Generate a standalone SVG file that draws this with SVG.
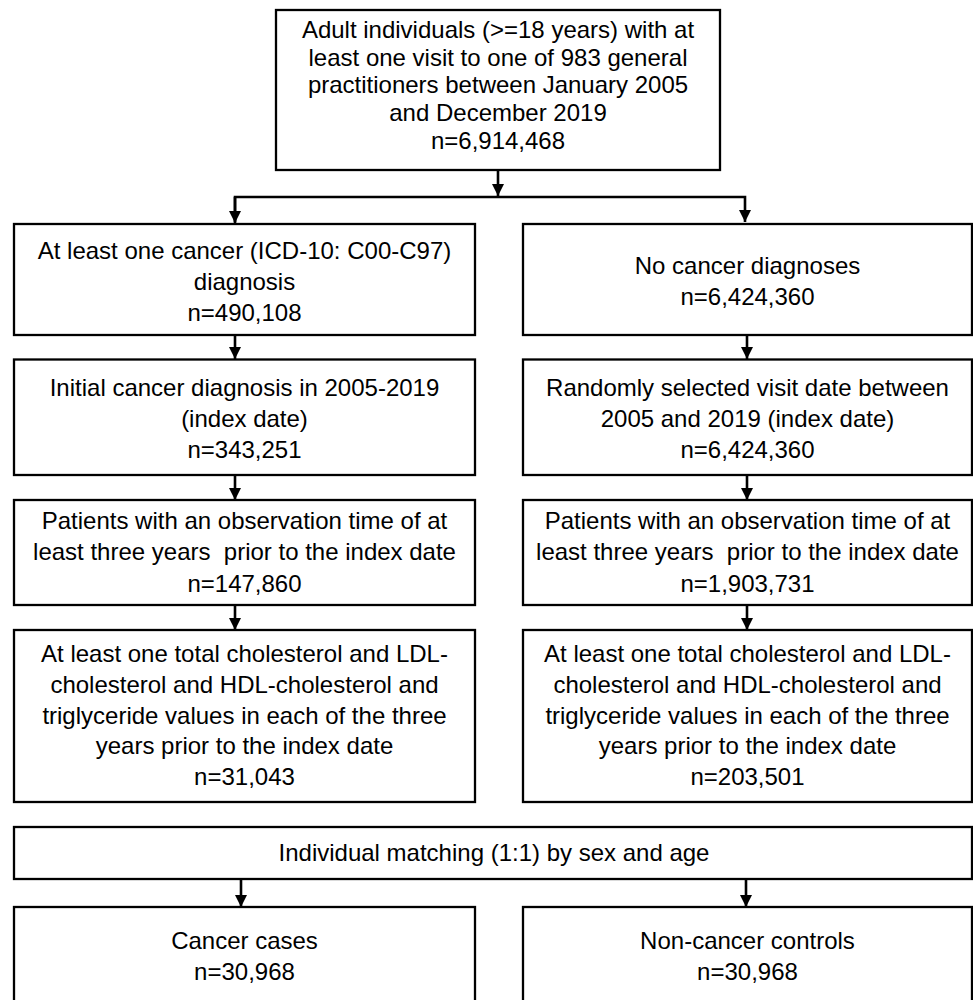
<svg xmlns="http://www.w3.org/2000/svg" width="973" height="1000" viewBox="0 0 973 1000">
<style>
.box{fill:#fff;stroke:#000;stroke-width:2.3}
.t{font-family:"Liberation Sans",Arial,sans-serif;font-size:24px;fill:#000;text-anchor:middle}
.c{fill:none;stroke:#000;stroke-width:2.6}
</style>
<defs>
<marker id="ah" markerUnits="userSpaceOnUse" markerWidth="13" markerHeight="13" refX="12.5" refY="6.25" orient="auto">
<path d="M0,0 L12.5,6.25 L0,12.5 z" fill="#000"/>
</marker>
</defs>
<rect width="973" height="1000" fill="#fff"/>
<g id="connectors">
<line class="c" x1="498" y1="170" x2="498" y2="196" marker-end="url(#ah)"/>
<polyline class="c" points="235,222 235,197 745,197 745,222" marker-end="url(#ah)"/>
<line class="c" x1="235" y1="197" x2="235" y2="223" marker-end="url(#ah)"/>
<line class="c" x1="235" y1="335" x2="235" y2="359" marker-end="url(#ah)"/>
<line class="c" x1="747" y1="335" x2="747" y2="359" marker-end="url(#ah)"/>
<line class="c" x1="235" y1="475" x2="235" y2="500" marker-end="url(#ah)"/>
<line class="c" x1="747" y1="475" x2="747" y2="500" marker-end="url(#ah)"/>
<line class="c" x1="235" y1="605" x2="235" y2="630" marker-end="url(#ah)"/>
<line class="c" x1="747" y1="605" x2="747" y2="630" marker-end="url(#ah)"/>
<line class="c" x1="241" y1="879" x2="241" y2="907" marker-end="url(#ah)"/>
<line class="c" x1="746" y1="879" x2="746" y2="907" marker-end="url(#ah)"/>
</g>
<g id="n_top">
<rect class="box" x="276" y="10" width="444" height="160"/>
<text class="t" x="498" y="38">Adult individuals (&gt;=18 years) with at</text>
<text class="t" x="498" y="65.7">least one visit to one of 983 general</text>
<text class="t" x="498" y="93.3">practitioners between January 2005</text>
<text class="t" x="498" y="121">and December 2019</text>
<text class="t" x="498" y="148.5">n=6,914,468</text>
</g>
<g id="n_cancer">
<rect class="box" x="14" y="224" width="461" height="111"/>
<text class="t" x="244.5" y="259">At least one cancer (ICD-10: C00-C97)</text>
<text class="t" x="244.5" y="290">diagnosis</text>
<text class="t" x="244.5" y="321">n=490,108</text>
</g>
<g id="n_nocancer">
<rect class="box" x="523" y="224" width="449" height="111"/>
<text class="t" x="747.5" y="274">No cancer diagnoses</text>
<text class="t" x="747.5" y="305">n=6,424,360</text>
</g>
<g id="n_initial">
<rect class="box" x="14" y="359.5" width="461" height="115.5"/>
<text class="t" x="244.5" y="396">Initial cancer diagnosis in 2005-2019</text>
<text class="t" x="244.5" y="426.5">(index date)</text>
<text class="t" x="244.5" y="457.5">n=343,251</text>
</g>
<g id="n_random">
<rect class="box" x="523" y="359.5" width="449" height="115.5"/>
<text class="t" x="747.5" y="396">Randomly selected visit date between</text>
<text class="t" x="747.5" y="426.5">2005 and 2019 (index date)</text>
<text class="t" x="747.5" y="457.5">n=6,424,360</text>
</g>
<g id="n_obs_left">
<rect class="box" x="14" y="500" width="461" height="105"/>
<text class="t" x="244.5" y="529">Patients with an observation time of at</text>
<text class="t" x="244.5" y="560" xml:space="preserve">least three years  prior to the index date</text>
<text class="t" x="244.5" y="591.5">n=147,860</text>
</g>
<g id="n_obs_right">
<rect class="box" x="523" y="500" width="449" height="105"/>
<text class="t" x="747.5" y="529">Patients with an observation time of at</text>
<text class="t" x="747.5" y="560" xml:space="preserve">least three years  prior to the index date</text>
<text class="t" x="747.5" y="591.5">n=1,903,731</text>
</g>
<g id="n_lipid_left">
<rect class="box" x="14" y="630" width="461" height="172"/>
<text class="t" x="244.5" y="662">At least one total cholesterol and LDL-</text>
<text class="t" x="244.5" y="693">cholesterol and HDL-cholesterol and</text>
<text class="t" x="244.5" y="723.5">triglyceride values in each of the three</text>
<text class="t" x="244.5" y="754">years prior to the index date</text>
<text class="t" x="244.5" y="785">n=31,043</text>
</g>
<g id="n_lipid_right">
<rect class="box" x="523" y="630" width="449" height="172"/>
<text class="t" x="747.5" y="662">At least one total cholesterol and LDL-</text>
<text class="t" x="747.5" y="693">cholesterol and HDL-cholesterol and</text>
<text class="t" x="747.5" y="723.5">triglyceride values in each of the three</text>
<text class="t" x="747.5" y="754">years prior to the index date</text>
<text class="t" x="747.5" y="785">n=203,501</text>
</g>
<g id="n_matching">
<rect class="box" x="14" y="827" width="958" height="52"/>
<text class="t" x="494" y="861">Individual matching (1:1) by sex and age</text>
</g>
<g id="n_cases">
<rect class="box" x="14" y="907" width="461" height="110"/>
<text class="t" x="244.5" y="948.5">Cancer cases</text>
<text class="t" x="244.5" y="979.5">n=30,968</text>
</g>
<g id="n_controls">
<rect class="box" x="523" y="907" width="449" height="110"/>
<text class="t" x="747.5" y="948.5">Non-cancer controls</text>
<text class="t" x="747.5" y="979.5">n=30,968</text>
</g>
</svg>
